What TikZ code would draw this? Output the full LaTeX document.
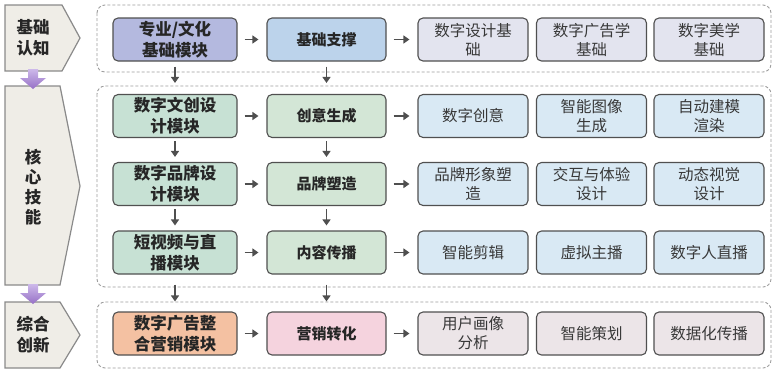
\documentclass[tikz,border=0pt]{standalone}
\usepackage{fontspec}
\setmainfont{Noto Sans CJK SC}
\usetikzlibrary{arrows.meta}
\definecolor{boxline}{HTML}{505050}
\definecolor{arrgray}{HTML}{4F4F4F}
\definecolor{dashgray}{HTML}{9C9C9C}
\definecolor{chevfill}{HTML}{EFEDE7}
\definecolor{chevline}{HTML}{8A8A8A}
\definecolor{pA}{HTML}{B4B9DF}
\definecolor{pB}{HTML}{BCD3EB}
\definecolor{pC}{HTML}{E3E4EF}
\definecolor{gA}{HTML}{C7E1D4}
\definecolor{gB}{HTML}{D3E6D6}
\definecolor{gC}{HTML}{D9E9F4}
\definecolor{oA}{HTML}{F4C1A2}
\definecolor{oB}{HTML}{F5D3DE}
\definecolor{oC}{HTML}{ECE5E8}
\definecolor{purpTop}{HTML}{CDB9EA}
\definecolor{purpBot}{HTML}{9670C6}
\tikzset{
  base/.style={draw=boxline, line width=1.1pt, rounded corners=5pt, align=center, inner sep=0pt, text=black!85},
  modbox/.style={base, minimum width=124pt, minimum height=43pt, font=\bfseries\fontsize{16.5}{21}\selectfont},
  supbox/.style={base, minimum width=119pt, minimum height=43pt, font=\bfseries\fontsize{15}{19}\selectfont},
  itembox/.style={base, minimum width=110pt, minimum height=43pt, font=\fontsize{15.5}{19}\selectfont, text=black!78},
  arr/.style={draw=arrgray, line width=1.3pt, -{Triangle[width=8pt,length=6pt]}},
  container/.style={draw=dashgray, line width=0.9pt, dash pattern=on 3pt off 2pt, rounded corners=8pt},
  chev/.style={fill=chevfill, draw=chevline, line width=1.2pt},
  chevtext/.style={font=\bfseries\fontsize{16.5}{21}\selectfont, align=center, text=black!85, inner sep=0pt},
  purparrow/.style={top color=purpTop, bottom color=purpBot, draw=none}
}
\begin{document}
\begin{tikzpicture}[x=1pt,y=-1pt]
\useasboundingbox (0,0) rectangle (776,373);
% chevrons
\draw[chev] (5,5) -- (62,5) -- (80,38) -- (62,71) -- (5,71) -- cycle;
\draw[chev] (5,86) -- (60,86) -- (80,186) -- (60,285) -- (5,285) -- cycle;
\draw[chev] (5,302) -- (60,302) -- (80,335) -- (60,368) -- (5,368) -- cycle;
\node[chevtext] (L1) at (33,38) {基础\\认知};
\node[chevtext, font=\bfseries\fontsize{16.5}{20}\selectfont] (L2) at (33,187) {核\\心\\技\\能};
\node[chevtext] (L3) at (33,335) {综合\\创新};
% purple arrows
\path[purparrow] (28,69) -- (38,69) -- (38,78) -- (46,78) -- (33,89) -- (20,78) -- (28,78) -- cycle;
\path[purparrow] (28,284) -- (38,284) -- (38,293) -- (46,293) -- (33,304) -- (20,293) -- (28,293) -- cycle;
% containers
\draw[container] (97,5) rectangle (771,72);
\draw[container] (97,86) rectangle (771,287);
\draw[container] (97,302) rectangle (771,368);
% row 0
\node[modbox, fill=pA] (m0) at (175,39.5) {专业/文化\\基础模块};
\node[supbox, fill=pB] (s0) at (326.5,39.5) {基础支撑};
\node[itembox, fill=pC] (a0) at (473,39.5) {数字设计基\\础};
\node[itembox, fill=pC] (b0) at (591.5,39.5) {数字广告学\\基础};
\node[itembox, fill=pC] (c0) at (709,39.5) {数字美学\\基础};
% row 1
\node[modbox, fill=gA] (m1) at (175,116) {数字文创设\\计模块};
\node[supbox, fill=gB] (s1) at (326.5,116) {创意生成};
\node[itembox, fill=gC] (a1) at (473,116) {数字创意};
\node[itembox, fill=gC] (b1) at (591.5,116) {智能图像\\生成};
\node[itembox, fill=gC] (c1) at (709,116) {自动建模\\渲染};
% row 2
\node[modbox, fill=gA] (m2) at (175,184) {数字品牌设\\计模块};
\node[supbox, fill=gB] (s2) at (326.5,184) {品牌塑造};
\node[itembox, fill=gC] (a2) at (473,184) {品牌形象塑\\造};
\node[itembox, fill=gC] (b2) at (591.5,184) {交互与体验\\设计};
\node[itembox, fill=gC] (c2) at (709,184) {动态视觉\\设计};
% row 3
\node[modbox, fill=gA] (m3) at (175,252.5) {短视频与直\\播模块};
\node[supbox, fill=gB] (s3) at (326.5,252.5) {内容传播};
\node[itembox, fill=gC] (a3) at (473,252.5) {智能剪辑};
\node[itembox, fill=gC] (b3) at (591.5,252.5) {虚拟主播};
\node[itembox, fill=gC] (c3) at (709,252.5) {数字人直播};
% row 4
\node[modbox, fill=oA] (m4) at (175,333.5) {数字广告整\\合营销模块};
\node[supbox, fill=oB] (s4) at (326.5,333.5) {营销转化};
\node[itembox, fill=oC] (a4) at (473,333.5) {用户画像\\分析};
\node[itembox, fill=oC] (b4) at (591.5,333.5) {智能策划};
\node[itembox, fill=oC] (c4) at (709,333.5) {数据化传播};
% horizontal arrows
\foreach \r in {0,1,2,3,4}{
  \draw[arr] ([xshift=7pt]m\r.east) -- ([xshift=-8pt]s\r.west);
  \draw[arr] ([xshift=7pt]s\r.east) -- ([xshift=-8pt]a\r.west);
}
% vertical arrows
\foreach \c in {m,s}{
  \draw[arr] ([yshift=-5pt]\c0.south) -- ([yshift=11pt]\c1.north);
  \draw[arr] ([yshift=-3pt]\c1.south) -- ([yshift=5pt]\c2.north);
  \draw[arr] ([yshift=-3pt]\c2.south) -- ([yshift=5pt]\c3.north);
  \draw[arr] ([yshift=-10pt]\c3.south) -- ([yshift=10pt]\c4.north);
}
\end{tikzpicture}
\end{document}
